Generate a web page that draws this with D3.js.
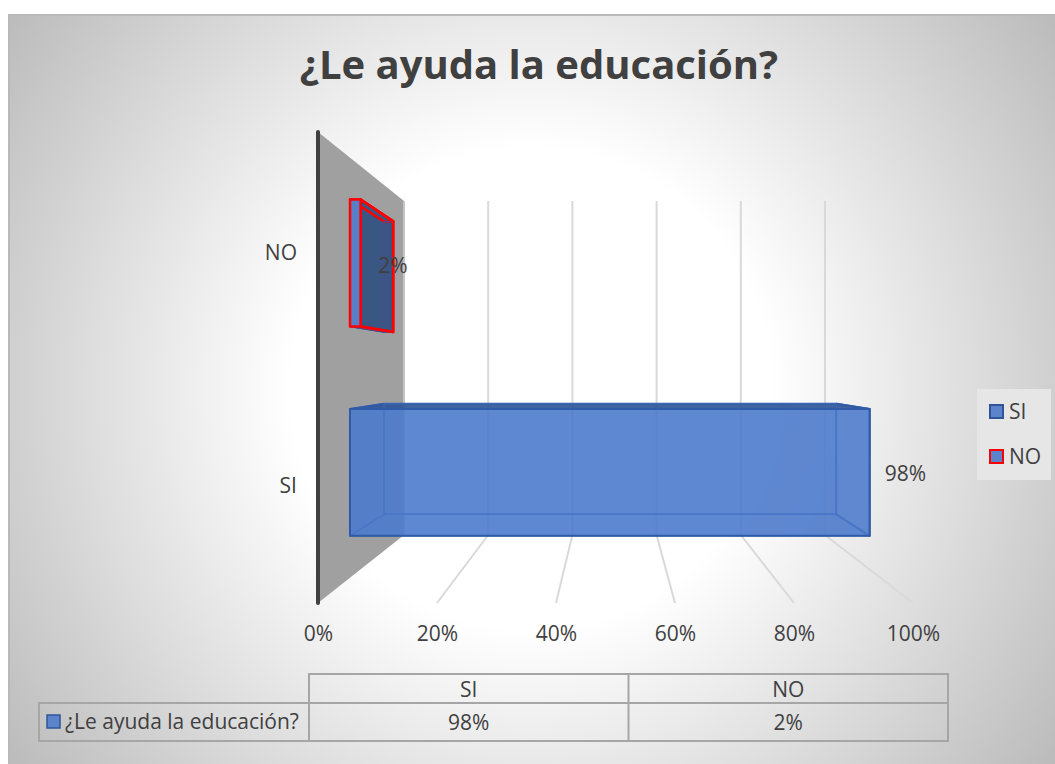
<!DOCTYPE html>
<html lang="es">
<head>
<meta charset="utf-8">
<title>¿Le ayuda la educación?</title>
<script src="https://d3js.org/d3.v7.min.js"></script>
<style>
body { margin: 0; background: #fff; }
svg { display: block; }
text { font-family: "Open Sans", sans-serif; fill: #404040; }
</style>
</head>
<body>
<div id="chart"></div>
<script>
// data
var chartTitle = "¿Le ayuda la educación?";
var seriesName = "¿Le ayuda la educación?";
var categories = ["SI", "NO"];
var values = [0.98, 0.02];
var axisTicks = [0, 0.2, 0.4, 0.6, 0.8, 1];

var width = 1055, height = 764;
var fontSize = 21;

var svg = d3.select("#chart").append("svg")
    .attr("width", width)
    .attr("height", height);

// background with the radial fade
var grad = svg.append("defs").append("radialGradient")
    .attr("id", "bg")
    .attr("gradientUnits", "userSpaceOnUse")
    .attr("cx", 531).attr("cy", 389).attr("r", 650);
grad.append("stop").attr("offset", "0.37").attr("stop-color", "#ffffff");
grad.append("stop").attr("offset", "1").attr("stop-color", "#bababa");

svg.append("rect")
    .attr("x", 8).attr("y", 14)
    .attr("width", width - 8).attr("height", height - 14)
    .attr("fill", "url(#bg)");
svg.append("path")
    .attr("d", d3.line()([[9, height], [9, 15], [width, 15]]))
    .attr("fill", "none")
    .attr("stroke", "#b9b9b9").attr("stroke-width", 2);

svg.append("text")
    .attr("x", 539).attr("y", 79)
    .attr("text-anchor", "middle")
    .attr("font-size", 40)
    .attr("font-weight", 700)
    .text(chartTitle);

// the fake 3D box: front plane and back plane, blended by depth
var xFront = d3.scaleLinear().domain([0, 1]).range([318, 913]);
var xBack = d3.scaleLinear().domain([0, 1]).range([404, 825]);
var yFront = d3.scaleLinear().domain([0, 1]).range([132, 603]);
var yBack = d3.scaleLinear().domain([0, 1]).range([201, 535]);

function project(v, h, d) {
  return [
    xFront(v) + (xBack(v) - xFront(v)) * d,
    yFront(h) + (yBack(h) - yFront(h)) * d
  ];
}
function poly(points) {
  return d3.line()(points) + "Z";
}

// categories run top to bottom, NO first
var band = d3.scaleBand()
    .domain(categories.slice().reverse())
    .range([0, 1])
    .paddingInner(0.394)
    .paddingOuter(0.2);

var depthNear = 0.372, depthFar = 0.767;

// wall
svg.append("path")
    .attr("d", poly([project(0, 0, 0), project(0, 0, 1), project(0, 1, 1), project(0, 1, 0)]))
    .attr("fill", "#a0a0a0");

// gridlines on back wall and floor
var grid = svg.append("g").attr("fill", "none")
    .attr("stroke", "#d9d9d9").attr("stroke-width", 2);
grid.selectAll("path").data(axisTicks.slice(1)).enter().append("path")
    .attr("d", function(t) {
      return d3.line()([project(t, 0, 1), project(t, 1, 1), project(t, 1, 0)]);
    });
svg.append("line")
    .attr("x1", xBack(0)).attr("x2", xBack(0))
    .attr("y1", yBack(0)).attr("y2", yBack(1))
    .attr("stroke", "#c4c4c4").attr("stroke-width", 2);

// dark axis line
svg.append("line")
    .attr("x1", xFront(0)).attr("x2", xFront(0))
    .attr("y1", yFront(0)).attr("y2", yFront(1))
    .attr("stroke", "#404040").attr("stroke-width", 4)
    .attr("stroke-linecap", "round");

var barStyle = {
  SI: { stroke: "#2f5ba8", width: 2, inner: "#3a66b4", front: "rgba(76,122,203,0.87)", side: "rgba(76,122,203,0.08)", top: "rgba(47,85,151,0.9)", back: "rgba(72,118,200,0.2)" },
  NO: { stroke: "#ff0000", width: 2.5, inner: "#4c4c8e", front: "#5680c8", side: "#3a5682", top: "#3a5682", back: "#3a5682" }
};

function drawBar(cat, val) {
  var st = barStyle[cat];
  var h0 = band(cat), h1 = h0 + band.bandwidth();
  var n = depthNear, f = depthFar;
  var g = svg.append("g").attr("class", "bar");

  var faces = [
    { pts: [project(0, h0, f), project(val, h0, f), project(val, h1, f), project(0, h1, f)], fill: st.back, outer: false },
    { pts: [project(0, h1, n), project(val, h1, n), project(val, h1, f), project(0, h1, f)], fill: st.back, outer: false },
    { pts: [project(0, h0, n), project(0, h0, f), project(0, h1, f), project(0, h1, n)], fill: st.back, outer: false },
    { pts: [project(val, h0, n), project(val, h0, f), project(val, h1, f), project(val, h1, n)], fill: st.side, outer: true },
    { pts: [project(0, h0, n), project(0, h0, f), project(val, h0, f), project(val, h0, n)], fill: st.top, outer: true },
    // hidden edges show through the faces
    { pts: [project(0, h0, f), project(val, h0, f), project(val, h1, f), project(0, h1, f)], fill: "none", outer: false },
    { pts: [project(0, h0, n), project(val, h0, n), project(val, h1, n), project(0, h1, n)], fill: st.front, outer: true }
  ];

  g.selectAll("path").data(faces).enter().append("path")
      .attr("d", function(d) { return poly(d.pts); })
      .attr("fill", function(d) { return d.fill; })
      .attr("stroke", function(d) { return d.outer ? st.stroke : st.inner; })
      .attr("stroke-width", function(d) { return d.outer ? st.width : 1.5; })
      .attr("stroke-linejoin", "round");

  // outline of the far right edge goes on top of the hidden edges
  g.append("path")
      .attr("d", d3.line()([project(val, h0, n), project(val, h0, f), project(val, h1, f), project(val, h1, n)]))
      .attr("fill", "none")
      .attr("stroke", cat == "NO" ? st.stroke : "none")
      .attr("stroke-width", st.width)
      .attr("stroke-linejoin", "round");
}
categories.forEach(function(c, i) { drawBar(c, values[i]); });

// value axis labels
var axis = d3.axisBottom(xFront)
    .tickValues(axisTicks)
    .tickFormat(d3.format(".0%"))
    .tickSize(0)
    .tickPadding(0);
var axisG = svg.append("g")
    .attr("transform", "translate(0,626)")
    .call(axis);
axisG.select(".domain").remove();
axisG.selectAll("text")
    .attr("font-size", fontSize)
    .attr("font-family", null)
    .attr("fill", null)
    .style("fill", "#404040");

// category labels
svg.selectAll(".catlabel").data(categories).enter().append("text")
    .attr("class", "catlabel")
    .attr("x", 297)
    .attr("y", function(c) { return c == "NO" ? 260 : 493; })
    .attr("text-anchor", "end")
    .attr("font-size", fontSize)
    .text(function(c) { return c; });

// data labels
var fmt = d3.format(".0%");
svg.selectAll(".datalabel").data(categories).enter().append("text")
    .attr("class", "datalabel")
    .attr("x", function(c) { return c == "NO" ? 393 : 905.5; })
    .attr("y", function(c) { return c == "NO" ? 273 : 481; })
    .attr("text-anchor", "middle")
    .attr("font-size", fontSize)
    .text(function(c, i) { return fmt(values[i]); });

// legend
var legend = svg.append("g");
legend.append("rect")
    .attr("x", 977).attr("y", 389)
    .attr("width", 74).attr("height", 91)
    .attr("fill", "#e6e6e6");
var legendY = d3.scalePoint().domain(categories).range([411.5, 456.5]);
categories.forEach(function(c) {
  legend.append("rect")
      .attr("x", 990).attr("y", legendY(c) - 6.5)
      .attr("width", 13).attr("height", 13)
      .attr("fill", "#5b84cc")
      .attr("stroke", c == "NO" ? "#ff0000" : "#2f5597")
      .attr("stroke-width", 2);
  legend.append("text")
      .attr("x", 1009).attr("y", legendY(c) + 7.5)
      .attr("font-size", fontSize)
      .text(c);
});

// data table under the chart
var tableX = d3.scaleBand().domain(categories).range([309, 948]);
var rowTop = 674, rowMid = 703, rowBottom = 741, tableLeft = 39;
var table = svg.append("g")
    .attr("fill", "none").attr("stroke", "#a6a6a6").attr("stroke-width", 2);
table.append("path").attr("d", d3.line()([[309, rowMid], [309, rowTop], [948, rowTop], [948, rowBottom], [tableLeft, rowBottom], [tableLeft, rowMid], [948, rowMid]]));
table.selectAll("line").data([309, tableX("NO")]).enter().append("line")
    .attr("x1", function(d) { return d; }).attr("x2", function(d) { return d; })
    .attr("y1", function(d) { return d == 309 ? rowMid : rowTop; })
    .attr("y2", rowBottom);

svg.selectAll(".tablehead").data(categories).enter().append("text")
    .attr("class", "tablehead")
    .attr("x", function(c) { return tableX(c) + tableX.bandwidth() / 2; })
    .attr("y", 697)
    .attr("text-anchor", "middle")
    .attr("font-size", fontSize)
    .text(function(c) { return c; });
svg.selectAll(".tableval").data(categories).enter().append("text")
    .attr("class", "tableval")
    .attr("x", function(c) { return tableX(c) + tableX.bandwidth() / 2; })
    .attr("y", 730)
    .attr("text-anchor", "middle")
    .attr("font-size", fontSize)
    .text(function(c, i) { return fmt(values[i]); });

svg.append("rect")
    .attr("x", 47).attr("y", 715)
    .attr("width", 13).attr("height", 13)
    .attr("fill", "#5b84cc").attr("stroke", "#2f5597").attr("stroke-width", 1.5);
svg.append("text")
    .attr("x", 65).attr("y", 729)
    .attr("font-size", fontSize)
    .text(seriesName);
</script>
</body>
</html>
